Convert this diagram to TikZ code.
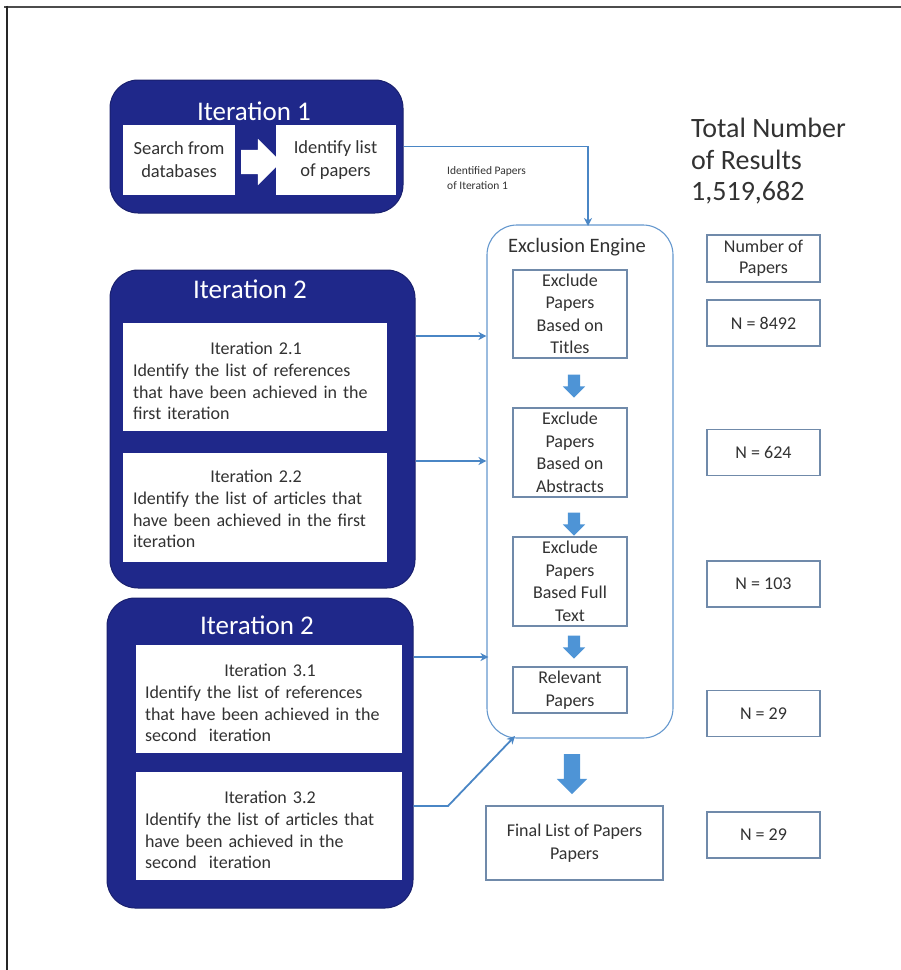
\documentclass[tikz,border=0pt]{standalone}
\usepackage{fontspec}
\setmainfont{Carlito}
\usetikzlibrary{shapes.arrows,arrows.meta,calc}
\definecolor{navy}{RGB}{31,40,138}
\definecolor{linkblue}{RGB}{74,134,197}
\definecolor{boxedge}{RGB}{112,138,170}
\definecolor{txt}{RGB}{50,50,50}
\definecolor{arrfill}{RGB}{78,148,214}
\begin{document}
\begin{tikzpicture}[x=1pt,y=-1pt,
  iterbox/.style={fill=navy, draw=navy!80!black, line width=1pt, rounded corners=28pt, inner sep=0pt},
  whitebox/.style={fill=white, draw=none, inner sep=0pt, text=txt},
  plainbox/.style={fill=white, draw=boxedge, line width=1.1pt, inner sep=0pt, text=txt, align=center, font=\fontsize{18}{22.5}\selectfont},
  engbox/.style={fill=white, draw=linkblue!85, line width=1.1pt, rounded corners=30pt, inner sep=0pt},
  titletext/.style={text=white, font=\fontsize{27}{30}\selectfont, inner sep=0pt},
  itertext/.style={text=txt, align=left, inner sep=0pt, font=\fontsize{18}{21.7}\selectfont},
  link/.style={draw=linkblue, line width=1.8pt, -{Stealth[length=8pt,width=8pt,inset=2.5pt]}},
  smallarr/.style={single arrow, rotate=-90, fill=arrfill, draw=none, inner xsep=0pt, inner ysep=6pt, single arrow head extend=5pt, minimum height=23pt},
  bigarr/.style={single arrow, rotate=-90, fill=arrfill, draw=none, inner xsep=0pt, inner ysep=8pt, single arrow head extend=7pt, minimum height=40pt},
  whitearr/.style={single arrow, fill=white, draw=none, inner xsep=0pt, inner ysep=12pt, single arrow head extend=11pt, minimum height=40pt}
]
\useasboundingbox (0,0) rectangle (901,970);
% frame
\draw[line width=2pt, black!70] (4,6.5) -- (901,6.5);
\draw[line width=2pt, black!85] (6.5,5.5) -- (6.5,970);

% Iteration 1
\node[iterbox, minimum width=293pt, minimum height=133pt] (it1) at (256.5,146.5) {};
\node[titletext] (it1t) at (254,111) {Iteration 1};
\node[whitebox, minimum width=112pt, minimum height=70pt, align=center, font=\fontsize{18.5}{23}\selectfont] (s1) at (179,160) {Search from\\databases};
\node[whitebox, minimum width=120pt, minimum height=70pt, align=center, font=\fontsize{18.5}{23}\selectfont] (s2) at (335.5,160) {Identify list\\of papers};
\node[whitearr] (wa) at (255,162) {};

% Iteration 2
\node[iterbox, minimum width=305pt, minimum height=318pt] (it2) at (262.5,429) {};
\node[titletext] (it2t) at (250,289) {Iteration 2};
\node[whitebox, minimum width=264pt, minimum height=108pt] (i21) at (255,377) {};
\node[itertext, text width=246pt] (i21t) at (256,381) {\makebox[\hsize]{Iteration 2.1}\\Identify the list of references\\that have been achieved in the\\first iteration};
\node[whitebox, minimum width=264pt, minimum height=109pt] (i22) at (255,507.5) {};
\node[itertext, text width=246pt] (i22t) at (256,509) {\makebox[\hsize]{Iteration 2.2}\\Identify the list of articles that\\have been achieved in the first\\iteration};

% Iteration 2 (second)
\node[iterbox, minimum width=306pt, minimum height=310pt] (it3) at (260,753) {};
\node[titletext] (it3t) at (257,625) {Iteration 2};
\node[whitebox, minimum width=266pt, minimum height=108pt] (i31) at (269,699) {};
\node[itertext, text width=250pt] (i31t) at (270,703) {\makebox[\hsize]{Iteration 3.1}\\Identify the list of references\\that have been achieved in the\\second\ \ iteration};
\node[whitebox, minimum width=266pt, minimum height=108pt] (i32) at (269,826) {};
\node[itertext, text width=250pt] (i32t) at (270,830) {\makebox[\hsize]{Iteration 3.2}\\Identify the list of articles that\\have been achieved in the\\second\ \ iteration};

% Exclusion engine
\node[engbox, minimum width=186pt, minimum height=513pt] (eng) at (580,481.5) {};
\node[text=txt, inner sep=0pt, font=\fontsize{20.5}{24}\selectfont] (engt) at (577,247) {Exclusion Engine};
\node[plainbox, minimum width=114pt, minimum height=88pt] (t1) at (570,314) {Exclude\\Papers\\Based on\\Titles};
\node[plainbox, minimum width=114pt, minimum height=89pt] (t2) at (570,452.5) {Exclude\\Papers\\Based on\\Abstracts};
\node[plainbox, minimum width=114pt, minimum height=89pt] (t3) at (570,581.5) {Exclude\\Papers\\Based Full\\Text};
\node[plainbox, minimum width=114pt, minimum height=46pt] (t4) at (570,690) {Relevant\\Papers};
\node[smallarr] (a1) at (574,383) {};
\node[smallarr] (a2) at (574,521) {};
\node[smallarr] (a3) at (574,644) {};
\node[bigarr] (a4) at (572,770) {};
\node[plainbox, minimum width=177pt, minimum height=74pt] (fin) at (574.5,843) {Final List of Papers\\Papers};

% Right column
\node[anchor=north west, text=txt, align=left, inner sep=0pt, font=\fontsize{28}{31.5}\selectfont] (tot) at (691,118) {Total Number\\of Results\\1,519,682};
\node[plainbox, minimum width=113pt, minimum height=47pt, font=\fontsize{18}{21}\selectfont] (np) at (763.5,258.5) {Number of\\Papers};
\node[plainbox, minimum width=113pt, minimum height=46pt] (n1) at (763.5,323) {N = 8492};
\node[plainbox, minimum width=113pt, minimum height=46pt] (n2) at (763.5,452.5) {N = 624};
\node[plainbox, minimum width=113pt, minimum height=46pt] (n3) at (763.5,584) {N = 103};
\node[plainbox, minimum width=113pt, minimum height=46pt] (n4) at (763.5,713.5) {N = 29};
\node[plainbox, minimum width=113pt, minimum height=46pt] (n5) at (763.5,835) {N = 29};

% connectors
\coordinate (engtop) at (588,226);
\draw[link] (it1.east) -| (engtop);
\node[anchor=west, text=txt, align=left, inner sep=0pt, font=\fontsize{11.5}{15}\selectfont] (lbl) at (447,178) {Identified Papers\\of Iteration 1};
\coordinate (c21) at (0,336);
\coordinate (c22) at (0,461);
\coordinate (c31) at (0,657);
\coordinate (c32) at (0,806);
\coordinate (bend) at (448,806);
\coordinate (engbl) at (515,736);
\draw[link] (it2.east |- c21) -- (eng.west |- c21);
\draw[link] (it2.east |- c22) -- (eng.west |- c22);
\draw[link] (it3.east |- c31) -- ($(eng.west |- c31)+(2,0)$);
\draw[link] (it3.east |- c32) -- (bend) -- (engbl);
\end{tikzpicture}
\end{document}
